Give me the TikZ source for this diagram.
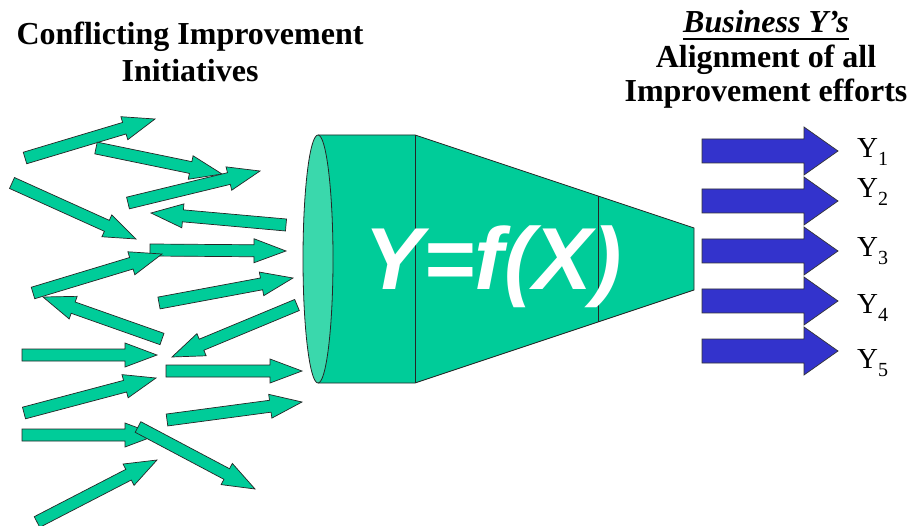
\documentclass[tikz,border=0pt]{standalone}
\usepackage{fontspec}
\setmainfont{Liberation Serif}
\newfontfamily\arialfont{Liberation Sans}
\usetikzlibrary{calc}

\definecolor{funnelgreen}{HTML}{00CC99}
\definecolor{rimgreen}{HTML}{3AD8AC}
\definecolor{yblue}{HTML}{3333CC}

\tikzset{
  greenarrow/.style={fill=funnelgreen, draw=black!85, line width=0.7pt, line join=miter},
  bluearrow/.style={fill=yblue, draw=black!80, line width=0.7pt, line join=miter},
  funnel/.style={fill=funnelgreen, draw=black!85, line width=0.8pt},
  rim/.style={fill=rimgreen, draw=black!85, line width=0.8pt},
  title/.style={inner sep=0pt, anchor=base, font=\fontsize{32}{37}\selectfont\bfseries},
  ylabel/.style={inner sep=0pt, anchor=base west, font=\fontsize{29}{30}\selectfont},
}

% block arrow: style, tail x,y, tip x,y, shaft half-width, head half-width, head length
\newcommand\blockarrow[8]{%
  \pgfmathsetmacro\baAng{atan2(#3-#5,#4-#2)}%
  \pgfmathsetmacro\baLen{veclen(#4-#2,#5-#3)}%
  \pgfmathsetmacro\baNeck{\baLen-#8}%
  \draw[#1, shift={(#2,#3)}, rotate=\baAng]
    (0,-#6) -- (\baNeck,-#6) -- (\baNeck,-#7) -- (\baLen,0)
    -- (\baNeck,#7) -- (\baNeck,#6) -- (0,#6) -- cycle;}
\newcommand\garrow[4]{\blockarrow{greenarrow}{#1}{#2}{#3}{#4}{6}{12}{32}}
\newcommand\barrow[4]{\blockarrow{bluearrow}{#1}{#2}{#3}{#4}{12}{24}{34}}
\newcommand\subidx[1]{\raisebox{-8pt}{\fontsize{20}{20}\selectfont #1}}

\begin{document}
\begin{tikzpicture}[x=1pt, y=-1pt]
\useasboundingbox[fill=white] (0,0) rectangle (912,526);

% headings
\node[title] (lt1) at (190,45) {Conflicting Improvement};
\node[title] (lt2) at (190,82) {Initiatives};
\node[title, font=\fontsize{32}{37}\selectfont\bfseries\itshape] (rt1) at (766,33) {Business Y’s};
\draw[line width=1.6pt] ([yshift=-6pt]rt1.base west) -- ([yshift=-6pt]rt1.base east);
\node[title] (rt2) at (766,68) {Alignment of all};
\node[title] (rt3) at (766,102) {Improvement efforts};

% scattered improvement initiatives
\garrow{25}{158}{155}{119}
\garrow{96}{148}{222}{174}
\garrow{128}{203}{260}{171}
\garrow{286}{225}{151}{213}
\garrow{12}{183}{136}{239}
\garrow{150}{250}{286}{251}
\garrow{33}{293}{162}{254}
\garrow{159}{303}{293}{278}
\garrow{162}{339}{43}{297}
\garrow{297}{305}{172}{357}
\garrow{22}{355}{157}{355}
\garrow{166}{371}{302}{371}
\garrow{24}{413}{156}{378}
\garrow{167}{420}{302}{402}
\garrow{22}{435}{157}{435}
\garrow{138}{427}{255}{489}
\garrow{37}{522}{157}{460}

% funnel
\coordinate (c0) at (318,135);
\coordinate (c1) at (415,135);
\coordinate (c2) at (694,228);
\coordinate (c3) at (694,290);
\coordinate (c4) at (415,383);
\coordinate (c5) at (318,383);
\fill[funnelgreen] (c0) -- (c1) -- (c2) -- (c3) -- (c4) -- (c5) -- cycle;
\draw[funnel, fill=none] (c0) -- (c1) -- (c2) -- (c3) -- (c4) -- (c5);
\draw[funnel, fill=none] (c1) -- (c4);
\draw[funnel, fill=none] ($(c1)!0.656!(c2)$) -- ($(c4)!0.656!(c3)$);
\draw[rim] (318,259) ellipse [x radius=15, y radius=124];

\node[inner sep=0pt, anchor=base, text=white,
      font=\arialfont\fontsize{88}{88}\selectfont\bfseries\itshape] (fx) at (493,290) {Y=f(X)};

% aligned outputs
\barrow{702}{151}{838}{151}
\barrow{702}{201}{838}{201}
\barrow{702}{251}{838}{251}
\barrow{702}{301}{838}{301}
\barrow{702}{351}{838}{351}

\node[ylabel] (y1) at (857,158) {Y\subidx{1}};
\node[ylabel] (y2) at (857,198) {Y\subidx{2}};
\node[ylabel] (y3) at (857,257) {Y\subidx{3}};
\node[ylabel] (y4) at (857,313) {Y\subidx{4}};
\node[ylabel] (y5) at (857,368) {Y\subidx{5}};
\end{tikzpicture}
\end{document}
